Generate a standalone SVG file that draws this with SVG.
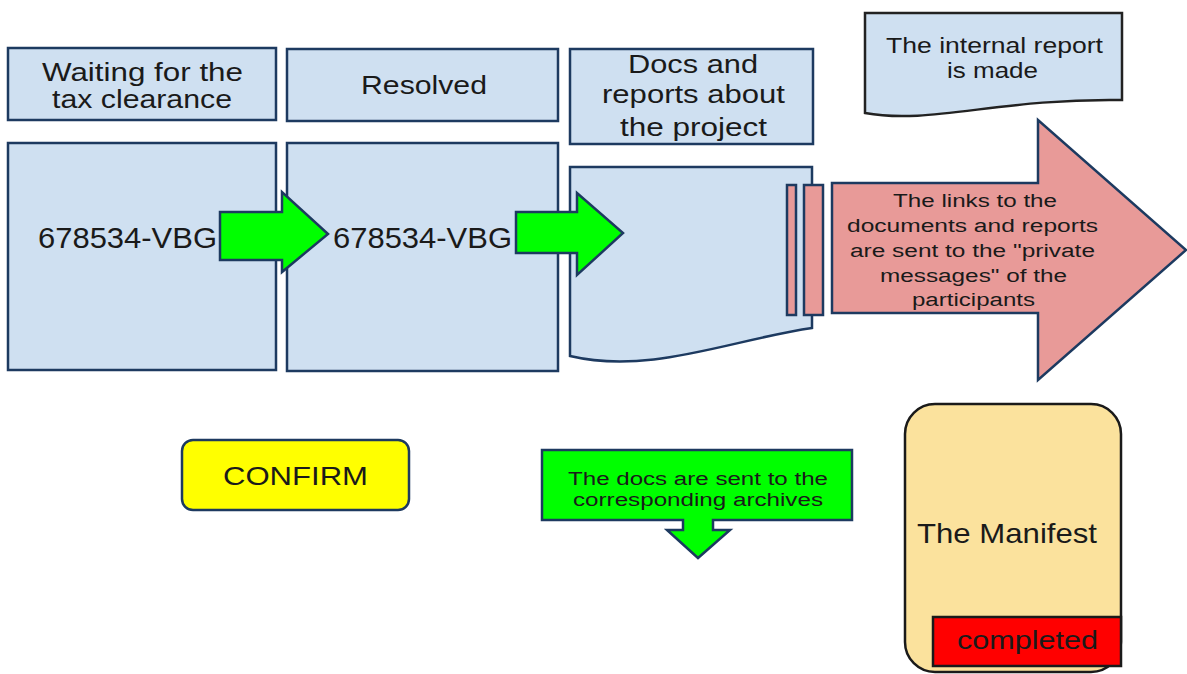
<svg xmlns="http://www.w3.org/2000/svg" width="1187" height="674" viewBox="0 0 1187 674">
  <style>
    .box { fill: #cfe0f1; stroke: #1d3a60; stroke-width: 2.5; }
    .doc { fill: #cfe0f1; stroke: #1d3a60; stroke-width: 2.5; }
    .note { fill: #cfe0f1; stroke: #222; stroke-width: 2.5; }
    .green { fill: #00ff00; stroke: #1d3a60; stroke-width: 2.5; }
    .pink { fill: #e89a98; stroke: #1d3a60; stroke-width: 2.5; }
    .t { font-family: "Liberation Sans", Arial, sans-serif; fill: #1a1a1a; text-anchor: middle; }
    .t26 { font-size: 26px; }
    .t29 { font-size: 29px; }
    .t22 { font-size: 22px; }
    .t18 { font-size: 18px; }
  </style>

  <!-- column 1 -->
  <g id="label-waiting">
    <rect class="box" x="8" y="48" width="268" height="72"/>
    <text class="t t26" x="142.5" y="81" textLength="201" lengthAdjust="spacingAndGlyphs">Waiting for the</text>
    <text class="t t26" x="142" y="108" textLength="180" lengthAdjust="spacingAndGlyphs">tax clearance</text>
  </g>
  <g id="card-1">
    <rect class="box" x="8" y="143" width="268" height="227"/>
    <text class="t t29" x="127.5" y="248" textLength="179" lengthAdjust="spacingAndGlyphs">678534-VBG</text>
  </g>

  <!-- column 2 -->
  <g id="label-resolved">
    <rect class="box" x="287" y="49" width="271" height="72"/>
    <text class="t t26" x="424" y="94" textLength="126" lengthAdjust="spacingAndGlyphs">Resolved</text>
  </g>
  <g id="card-2">
    <rect class="box" x="287" y="143" width="271" height="228"/>
    <text class="t t29" x="422.5" y="248" textLength="179" lengthAdjust="spacingAndGlyphs">678534-VBG</text>
  </g>

  <!-- column 3 -->
  <g id="label-docs">
    <rect class="box" x="570" y="49" width="243" height="95"/>
    <text class="t t26" x="693" y="73" textLength="130" lengthAdjust="spacingAndGlyphs">Docs and</text>
    <text class="t t26" x="693.5" y="103" textLength="183" lengthAdjust="spacingAndGlyphs">reports about</text>
    <text class="t t26" x="693.5" y="136" textLength="147" lengthAdjust="spacingAndGlyphs">the project</text>
  </g>
  <g id="doc-sheet">
    <path class="doc" d="M570,167 H812 V328 C730,340 650,375 570,356 Z"/>
  </g>

  <!-- internal report note -->
  <g id="internal-report">
    <path class="note" d="M865,13 H1122 V100 C1000,98 930,125 865,113 Z"/>
    <text class="t t22" x="994.5" y="53" textLength="217" lengthAdjust="spacingAndGlyphs">The internal report</text>
    <text class="t t22" x="992.5" y="78" textLength="91" lengthAdjust="spacingAndGlyphs">is made</text>
  </g>

  <!-- connectors -->
  <g id="connectors">
    <polygon class="green" points="220,212 282,212 282,192 328,234 282,272 282,260 220,260"/>
    <polygon class="green" points="516,212 577,212 577,193 623,233 577,275 577,253 516,253"/>
    <rect class="pink" x="787" y="185" width="9" height="130"/>
    <rect class="pink" x="804" y="185" width="19" height="130"/>
  </g>

  <!-- distribution arrow -->
  <g id="links-arrow">
    <polygon class="pink" points="832,183 1038,183 1038,120 1186,250 1038,380 1038,313 832,313"/>
    <text class="t t18" x="975" y="207" textLength="164" lengthAdjust="spacingAndGlyphs">The links to the</text>
    <text class="t t18" x="972.5" y="232" textLength="251" lengthAdjust="spacingAndGlyphs">documents and reports</text>
    <text class="t t18" x="972.5" y="257" textLength="245" lengthAdjust="spacingAndGlyphs">are sent to the "private</text>
    <text class="t t18" x="973.5" y="282" textLength="187" lengthAdjust="spacingAndGlyphs">messages" of the</text>
    <text class="t t18" x="973.5" y="306" textLength="123" lengthAdjust="spacingAndGlyphs">participants</text>
  </g>

  <!-- confirm button -->
  <g id="confirm">
    <rect x="182" y="440" width="227" height="70" rx="11" fill="#ffff00" stroke="#1d3a60" stroke-width="2.5"/>
    <text class="t t26" x="295.5" y="485" textLength="145" lengthAdjust="spacingAndGlyphs">CONFIRM</text>
  </g>

  <!-- archive callout -->
  <g id="archives">
    <path class="green" d="M542,450 H852 V520 H713 V530 H730 L698,558 L667,530 H683 V520 H542 Z"/>
    <text class="t t18" x="698" y="485" textLength="260" lengthAdjust="spacingAndGlyphs">The docs are sent to the</text>
    <text class="t t18" x="698" y="506" textLength="250" lengthAdjust="spacingAndGlyphs">corresponding archives</text>
  </g>

  <!-- manifest card -->
  <g id="manifest">
    <rect x="905" y="404" width="216" height="268" rx="30" fill="#fbe29d" stroke="#1a1a1a" stroke-width="2.5"/>
    <text class="t" x="1007" y="543" font-size="28" textLength="180" lengthAdjust="spacingAndGlyphs">The Manifest</text>
    <rect x="933" y="617" width="188" height="49" fill="#ff0000" stroke="#1a1a1a" stroke-width="2.5"/>
    <text class="t t26" x="1027.5" y="649" textLength="141" lengthAdjust="spacingAndGlyphs">completed</text>
  </g>
</svg>
